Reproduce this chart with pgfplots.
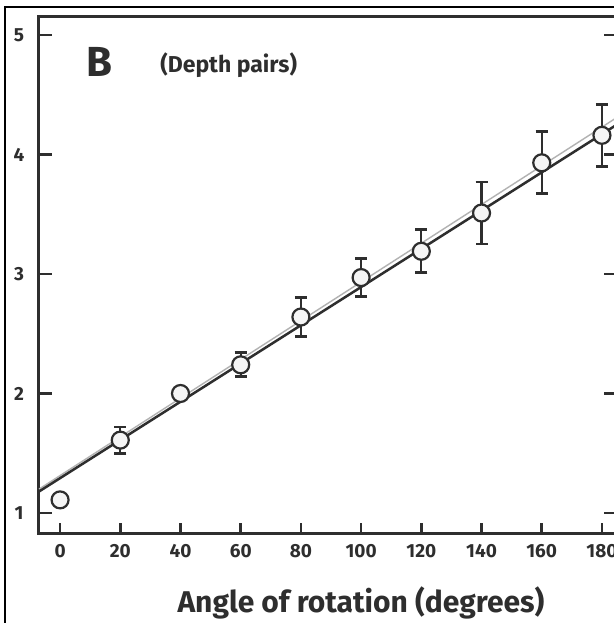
\documentclass[border=0pt]{standalone}
\usepackage{fontspec}
\setmainfont{Fira Sans}
\usepackage{pgfplots}
\pgfplotsset{compat=1.18}
\definecolor{ink}{HTML}{2E2E2E}

\begin{document}
\begin{tikzpicture}[x=1pt,y=1pt]
\useasboundingbox (0,0) rectangle (613,623);
\fill[white] (0,0) rectangle (613,623);
% scan frame
\draw[black, line width=2.5pt] (5,0) -- (5,616) -- (614,616);
\begin{axis}[
    at={(39pt,90pt)}, anchor=south west,
    scale only axis, width=578pt, height=516pt,
    xmin=-7, xmax=185, ymin=0.833, ymax=5.15,
    xtick={0,20,...,180}, ytick={1,2,3,4,5},
    xtick pos=left, ytick pos=both,
    tick align=inside,
    axis line style={ink, line width=3pt},
    xtick style={ink, line width=2.6pt, /pgfplots/major tick length=10pt},
    ytick style={ink, line width=2.6pt, /pgfplots/major tick length=13pt},
    /pgf/number format/assume math mode=true,
    tick label style={font=\bfseries\fontsize{19}{19}\selectfont, text=ink},
    xticklabel style={anchor=center, yshift=-18pt},
    yticklabel style={anchor=center, xshift=-20pt},
    xlabel={Angle of rotation (degrees)},
    xlabel style={at={(rel axis cs:0.557,0)}, anchor=center, yshift=-70pt,
                  font=\bfseries\fontsize{30}{30}\selectfont, text=ink},
    clip=false,
]
\addplot[gray!60, line width=1.4pt] coordinates {(-7,1.20) (185,4.31)};
\addplot[ink, line width=2.5pt] coordinates {(-7,1.18) (185,4.25)};
\addplot[ink, only marks, mark=*, mark size=8.5pt,
    mark options={fill=white!92!gray, draw=ink, line width=2.2pt},
    error bars/.cd, y dir=both, y explicit,
    error bar style={ink, line width=2.2pt},
    error mark options={rotate=90, mark size=6pt, line width=2.8pt, ink}]
  coordinates {
    (20,1.61) +- (0,0.11)
    (60,2.24) +- (0,0.10)
    (80,2.64) +- (0,0.16)
    (100,2.97) +- (0,0.16)
    (120,3.19) +- (0,0.18)
    (140,3.51) +- (0,0.26)
    (160,3.93) +- (0,0.26)
    (180,4.16) +- (0,0.26)
  };
\addplot[ink, only marks, mark=*, mark size=8.5pt,
    mark options={fill=white!92!gray, draw=ink, line width=2.2pt}]
  coordinates {(0,1.11) (40,2.00)};
\node[font=\bfseries\fontsize{42}{42}\selectfont, text=ink] at (axis cs:13,4.77) {B};
\node[font=\bfseries\fontsize{23}{23}\selectfont, text=ink] at (axis cs:56,4.75) {(Depth pairs)};
\end{axis}
\end{tikzpicture}
\end{document}
